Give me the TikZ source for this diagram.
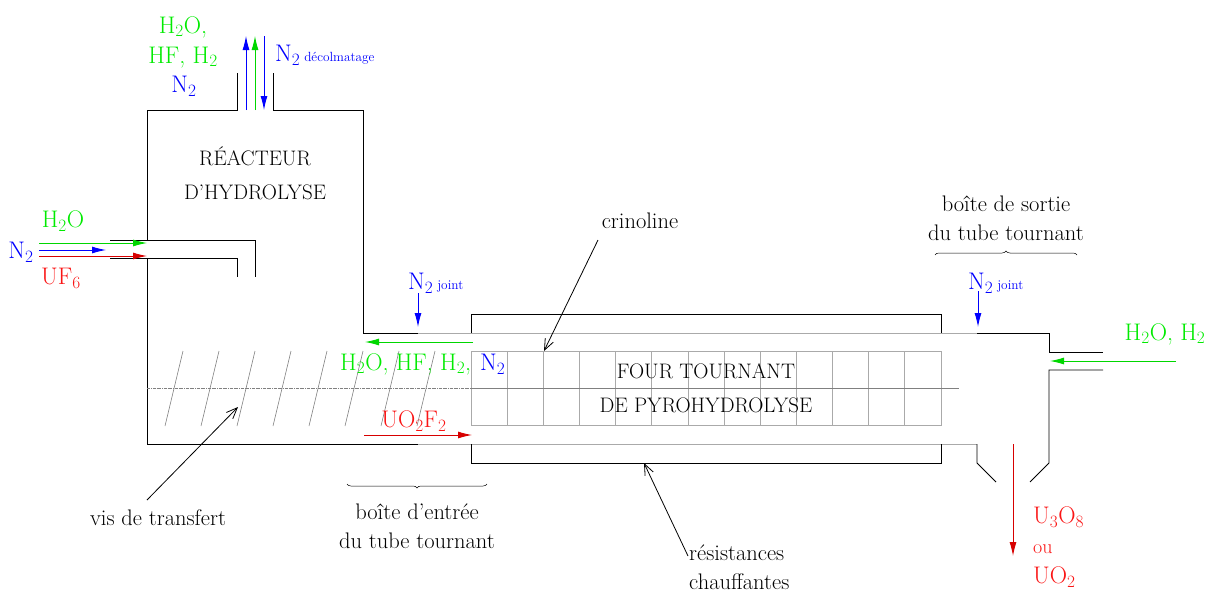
\documentclass[tikz,border=0pt]{standalone}
\usetikzlibrary{arrows.meta,decorations.pathreplacing}
\definecolor{flowgreen}{RGB}{0,215,0}
\definecolor{textgreen}{RGB}{0,235,0}
\definecolor{flowred}{RGB}{215,0,0}
\definecolor{textred}{RGB}{250,20,20}
\definecolor{pipegrey}{RGB}{170,170,170}
\tikzset{
  txt/.style={inner sep=0pt,font=\fontsize{22.5}{29}\selectfont},
  caps/.style={inner sep=0pt,font=\fontsize{21}{34}\selectfont},
  formula/.style={inner sep=0pt,font=\fontsize{24}{30}\selectfont},
  flow/.style={line width=0.9pt,-{Latex[length=14pt,width=7pt]}},
  leader/.style={line width=0.8pt,-{Straight Barb[length=11pt,width=9pt]}},
  wall/.style={line width=0.9pt},
  thin grey/.style={line width=0.8pt,color=pipegrey},
  brace/.style={line width=0.5pt,decorate,decoration={brace,amplitude=4pt}}
}
\newcommand{\smalltxt}[1]{{\fontsize{13.3}{16}\selectfont #1}}
\begin{document}
\begin{tikzpicture}[x=1pt,y=-1pt]
      \useasboundingbox (0,0) rectangle (1212,592);
      % reactor and entry box
      \draw[wall] (147,240) -- (147,110) -- (237,110) -- (237,73);
      \draw[wall] (273,73) -- (273,110) -- (363,110) -- (363,333) -- (418,333);
      \draw[wall] (147,258) -- (147,444) -- (418,444);
      % UF6 and H2O inlet
      \draw[wall] (110,240) -- (255,240) -- (255,277);
      \draw[wall] (110,258) -- (237,258) -- (237,277);
      % rotating tube
      \draw[thin grey] (418,333) -- (977,333);
      \draw[thin grey] (418,444) -- (977,444);
      % furnace
      \draw[wall] (471,333) -- (471,314) -- (941,314) -- (941,333);
      \draw[wall] (471,444) -- (471,463) -- (941,463) -- (941,444);
      % exit box
      \draw[wall] (977,333) -- (1049,333) -- (1049,352) -- (1103,352);
      \draw[wall] (1103,370) -- (1049,370) -- (1049,463) -- (1030,482);
      \draw[wall] (977,444) -- (977,463) -- (996,482);
      % crinoline
      \draw[thin grey] (471,351) rectangle (941,425);
      \foreach \xcol in {1,...,12}
        \draw[thin grey] (471+36.15*\xcol,351) -- (471+36.15*\xcol,425);
      \draw[line width=0.6pt,color=gray] (471,388) -- (959,388);
      % transfer screw
      \draw[line width=0.5pt,color=gray,densely dash dot] (147,388) -- (471,388);
      \foreach \xscrew in {0,...,7}
        \draw[line width=0.6pt,color=gray] (183+36*\xscrew,351) -- (165+36*\xscrew,426);
      % flows
      \draw[flow,blue] (246,110) -- (246,36);
      \draw[flow,flowgreen] (255,110) -- (255,36);
      \draw[flow,blue] (264,36) -- (264,110);
      \draw[flow,flowgreen] (39,243) -- (147,243);
      \draw[flow,blue] (39,250) -- (106,250);
      \draw[flow,flowred] (39,256) -- (147,256);
      \draw[flow,blue] (418,293) -- (418,327);
      \draw[flow,flowgreen] (473,342) -- (365,342);
      \draw[flow,flowred] (364,435) -- (472,435);
      \draw[flow,blue] (978,291) -- (978,327);
      \draw[flow,flowgreen] (1176,361) -- (1050,361);
      \draw[flow,flowred] (1013,444) -- (1013,556);
      % flow labels
      \node[formula,textgreen,align=center] (top_out) at (183,42) {H$_2$O,\\HF, H$_2$};
      \node[formula,blue] (top_n2) at (184,86) {N$_2$};
      \node[formula,blue,anchor=west] (decolmatage) at (275,55) {N$_2$\,\smalltxt{décolmatage}};
      \node[formula,textgreen] (in_h2o) at (63,221) {H$_2$O};
      \node[formula,blue] (in_n2) at (21,252) {N$_2$};
      \node[formula,textred] (in_uf6) at (61,278) {UF$_6$};
      \node[formula,blue,anchor=west] (joint_in) at (408,283) {N$_2$\,\smalltxt{joint}};
      \node[formula,blue,anchor=west] (joint_out) at (968,283) {N$_2$\,\smalltxt{joint}};
      \node[formula,textgreen,anchor=west] (tube_gas) at (340,364) {H$_2$O, HF, H$_2$,};
      \node[formula,blue,anchor=west] (tube_n2) at (480,364) {N$_2$};
      \node[formula,textred] (tube_solid) at (414,421) {UO$_2$F$_2$};
      \node[formula,textgreen] (out_gas) at (1165,334) {H$_2$O, H$_2$};
      \node[formula,textred,align=left,anchor=west] (out_solid) at (1033,547) {U$_3$O$_8$\\{\fontsize{20}{30}\selectfont ou}\\UO$_2$};
      % names of the parts
      \node[caps,align=center] (reactor) at (255,173) {RÉACTEUR\\D'HYDROLYSE};
      \node[caps,align=center] (furnace) at (706,388) {FOUR TOURNANT\\DE PYROHYDROLYSE};
      \node[txt,align=center] (exit_box) at (1006,218) {boîte de sortie\\du tube tournant};
      \node[txt,align=center] (entry_box) at (417,526) {boîte d'entrée\\du tube tournant};
      \node[txt] (crinoline) at (640,221) {crinoline};
      \node[txt] (screw) at (158,518) {vis de transfert};
      \node[txt,align=left,anchor=west] (heaters) at (689,567.5) {résistances\\chauffantes};
      % braces
      \draw[brace] (935,255) -- (1077,255);
      \draw[brace] (487,484) -- (347,484);
      % leaders
      \coordinate (crinoline_end) at (598,240);
      \coordinate (screw_end) at (147,500);
      \coordinate (heaters_end) at (688,556);
      \draw[leader] (crinoline_end) -- (544,351);
      \draw[leader] (screw_end) -- (238,407);
      \draw[leader] (heaters_end) -- (644,463);
    \end{tikzpicture}
\end{document}
